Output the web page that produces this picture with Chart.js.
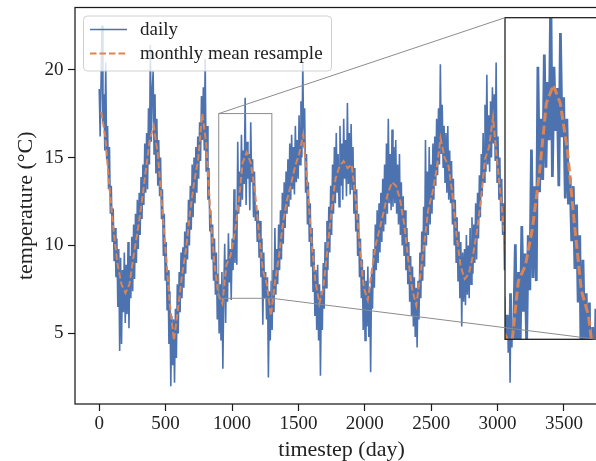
<!DOCTYPE html>
<html>
<head>
<meta charset="utf-8">
<script src="https://cdn.jsdelivr.net/npm/chart.js@4.4.0/dist/chart.umd.min.js"></script>
<style>
  html, body { margin: 0; padding: 0; width: 596px; height: 461px; overflow: hidden; background: #fff; }
  canvas { position: absolute; }
  #main { left: 0; top: 0; }
  #inset { left: 500px; top: 12px; }
  #overlay { left: 0; top: 0; pointer-events: none; }
</style>
</head>
<body>
<canvas id="main" width="620" height="461"></canvas>
<canvas id="inset" width="100" height="334"></canvas>
<canvas id="overlay" width="620" height="461"></canvas>
<script>
'use strict';
// daily series (day = index * 7)
var dailyStep = 7;
var dailyTemp = [
  18.9,16.2,19.4,22.5,17.0,18.6,15.4,20.4,14.9,16.8,13.2,15.6,11.8,
  13.4,10.2,12.1,9.1,11.0,8.2,10.4,6.5,9.8,4.0,9.3,4.4,8.6,
  6.2,9.6,5.6,8.9,6.1,10.2,5.3,9.4,7.0,10.5,7.4,11.2,8.1,
  11.8,9.0,12.6,9.8,13.0,10.6,13.9,11.5,14.6,12.3,15.8,13.0,16.4,
  13.2,17.8,14.6,21.4,15.9,18.8,19.9,15.2,18.6,14.1,17.2,13.4,16.0,
  12.8,15.0,11.5,13.2,9.4,11.8,8.0,10.2,6.3,8.6,4.4,7.4,2.0,
  6.0,3.2,5.8,2.2,6.4,3.6,7.8,5.0,8.5,6.2,9.6,7.0,9.9,
  7.6,10.8,8.4,11.3,9.2,12.6,10.0,13.4,10.9,14.6,11.6,15.0,12.4,
  15.6,13.0,16.2,13.8,17.0,14.8,18.5,16.0,19.0,15.4,20.6,14.2,16.8,
  12.6,14.4,10.8,12.0,9.2,11.2,8.0,10.4,7.2,9.6,5.8,8.4,5.0,
  7.8,4.6,8.5,3.0,7.4,10.1,5.6,9.2,6.8,10.7,7.9,9.8,6.9,
  10.4,8.6,13.2,9.0,12.0,8.9,15.9,11.8,14.2,12.2,16.3,12.6,15.4,
  13.5,18.4,12.3,15.9,13.8,15.2,12.0,17.0,13.6,14.9,11.6,14.2,11.4,
  12.3,10.2,12.0,9.3,11.4,8.2,10.4,5.5,9.6,7.0,8.5,5.8,8.2,
  2.5,7.4,4.6,8.0,5.2,8.6,6.2,11.0,7.2,9.8,7.8,11.2,8.6,
  12.0,9.2,13.0,10.1,13.6,11.0,14.2,11.8,14.9,12.2,15.8,12.6,16.3,
  13.2,15.6,12.9,16.8,13.6,16.0,13.8,17.4,14.6,18.2,15.0,20.4,15.6,
  17.8,13.0,15.2,11.2,13.6,10.2,12.4,8.8,11.0,7.4,9.8,6.0,8.6,
  5.2,8.9,4.6,7.8,2.6,7.4,5.2,9.0,6.4,10.2,7.6,11.4,8.6,
  12.2,9.6,13.4,10.6,14.6,11.8,15.6,12.4,16.4,13.0,15.2,12.2,16.8,
  13.4,15.8,12.6,17.2,13.8,16.0,12.8,18.1,13.5,16.4,12.9,16.9,13.2,
  15.6,11.8,14.4,10.8,13.2,9.4,11.8,8.2,10.4,7.0,9.2,5.2,8.6,
  4.6,8.0,5.4,8.8,4.8,7.6,2.8,8.4,6.4,9.8,7.6,11.2,8.6,
  12.0,9.0,12.4,9.6,13.0,10.2,13.8,10.8,14.6,11.2,15.8,11.8,17.2,
  12.4,15.2,12.0,16.6,12.2,15.6,12.4,16.0,11.8,14.6,11.2,15.2,10.6,
  13.6,10.0,12.8,9.4,12.0,8.6,11.0,7.8,10.2,6.8,9.4,6.0,8.8,
  5.4,8.2,4.8,7.6,4.2,8.0,5.8,9.6,7.0,10.8,8.0,12.2,8.8,
  16.0,10.0,14.2,10.6,15.6,11.2,14.6,11.8,15.8,12.6,16.2,13.4,17.2,
  14.0,17.8,14.6,20.3,15.2,18.0,14.4,16.8,13.6,16.4,13.0,16.8,12.6,
  15.4,12.4,14.8,11.2,13.8,10.0,12.6,9.0,11.6,8.0,10.8,7.0,10.2,
  5.4,9.6,6.8,9.8,6.6,10.6,7.2,10.0,7.0,11.0,7.8,11.6,8.4,
  11.2,9.0,12.4,9.2,13.0,10.4,14.0,11.6,15.2,12.8,16.4,13.6,18.0,
  14.2,19.7,14.6,17.4,14.2,18.2,15.0,19.0,15.8,18.6,14.8,20.4,13.6,
  16.2,12.6,15.0,11.4,13.8,10.6,12.4,8.6,10.8,4.8,9.0,3.9,8.2,
  2.2,7.6,4.2,8.4,5.2,9.0,6.0,9.4,6.6,10.0,7.4,11.2,8.2,
  11.6,9.0,12.4,9.8,13.2,10.6,14.4,11.2,15.0,12.0,16.4,12.8,17.2,
  13.6,18.0,14.2,19.4,14.6,17.6,13.8,18.2,13.2,16.4,12.6,15.6,11.4,
  14.8,10.6,13.4,9.8,12.6,8.8,11.6,7.8,10.8,7.0,10.2,6.4,9.8,
  5.8,9.6,6.2,10.0,5.6,9.4,6.8,10.4,7.4,11.0,8.2,12.0,8.8,
  12.6,9.6,13.4,10.4,14.0,11.0,14.8,11.8,15.6,12.6,16.4,13.2,17.0,
  13.8,16.6
];
// monthly means, one per month (placed mid month)
var monthStep = 30.42;
var monthlyTemp = [
  17.6,16.2,13.4,11.0,9.0,7.8,7.3,7.8,9.4,10.8,12.4,14.2,
  16.0,16.8,15.2,12.4,9.5,6.6,4.6,6.4,8.3,9.8,11.9,13.6,
  14.9,17.5,15.8,11.8,9.0,7.2,6.7,8.9,9.4,10.6,12.4,14.7,
  15.3,14.7,13.2,10.8,8.6,7.8,6.0,7.9,9.4,11.3,12.6,13.5,
  14.5,15.2,16.3,13.6,10.4,8.0,6.7,7.6,9.8,12.0,13.8,14.5,
  14.8,14.4,14.6,12.6,9.9,7.6,6.9,8.6,10.1,11.0,12.0,13.0,
  13.6,13.4,12.6,11.2,9.2,7.5,6.6,8.3,10.2,12.1,13.0,14.3,
  16.1,15.0,14.5,12.8,10.5,8.8,8.1,8.4,9.4,10.8,12.6,14.9,
  15.6,17.3,14.8,12.6,10.0,7.0,6.5,7.8,9.6,11.2,12.9,14.6,
  15.8,15.2,13.4,11.3,9.4,8.2,7.9,9.0,10.6,12.3,13.9,15.2
];
var xTicks = [0, 500, 1000, 1500, 2000, 2500, 3000, 3500];
var yTicks = [5, 10, 15, 20];
var zoomX = [900, 1300];
var zoomY = [7, 17.5];

var dailyPoints = dailyTemp.map(function(t, i) { return {x: i * dailyStep, y: t}; });
var monthlyPoints = monthlyTemp.map(function(t, i) { return {x: 15 + i * monthStep, y: t}; });

var serif = "'Liberation Serif', 'Times New Roman', serif";
Chart.defaults.font.family = serif;
Chart.defaults.color = '#222';
var blue = '#4c72b0', orange = '#dd8452';

// black box round the plot area
var framePlugin = {
  id: 'frame',
  beforeDraw: function(chart, args, opts) {
    if (!opts.fill) return;
    var a = chart.chartArea, ctx = chart.ctx;
    ctx.save();
    ctx.fillStyle = '#fff';
    ctx.fillRect(a.left, a.top, a.right - a.left, a.bottom - a.top);
    ctx.restore();
  },
  afterDatasetsDraw: function(chart) {
    var a = chart.chartArea, ctx = chart.ctx;
    ctx.save();
    ctx.strokeStyle = '#1a1a1a';
    ctx.lineWidth = 1.25;
    ctx.strokeRect(a.left, a.top, a.right - a.left, a.bottom - a.top);
    ctx.restore();
  }
};

// matplotlib style legend in the upper left corner
var boxLegend = {
  id: 'boxLegend',
  afterDraw: function(chart) {
    var ctx = chart.ctx, a = chart.chartArea;
    var x = a.left + 8.5, y = a.top + 8.5, w = 248, h = 55, r = 4;
    ctx.save();
    ctx.beginPath();
    ctx.moveTo(x + r, y);
    ctx.arcTo(x + w, y, x + w, y + h, r);
    ctx.arcTo(x + w, y + h, x, y + h, r);
    ctx.arcTo(x, y + h, x, y, r);
    ctx.arcTo(x, y, x + w, y, r);
    ctx.closePath();
    ctx.fillStyle = 'rgba(255,255,255,0.8)';
    ctx.fill();
    ctx.strokeStyle = 'rgba(204,204,204,0.9)';
    ctx.lineWidth = 1;
    ctx.stroke();
    chart.data.datasets.forEach(function(ds, i) {
      var ly = y + 13.5 + i * 24;
      ctx.beginPath();
      ctx.setLineDash(ds.borderDash || []);
      ctx.strokeStyle = ds.borderColor;
      ctx.lineWidth = ds.borderWidth;
      ctx.moveTo(x + 6.5, ly);
      ctx.lineTo(x + 43.5, ly);
      ctx.stroke();
      ctx.setLineDash([]);
      ctx.fillStyle = '#222';
      ctx.font = '19px ' + serif;
      ctx.textBaseline = 'middle';
      ctx.fillText(ds.label, x + 56.5, ly + 1);
    });
    ctx.restore();
  }
};

var mainChart = new Chart(document.getElementById('main').getContext('2d'), {
  type: 'line',
  data: {
    datasets: [{
      label: 'daily',
      data: dailyPoints,
      borderColor: blue,
      borderWidth: 1.6,
      pointRadius: 0,
      order: 2,
      clip: 0
    }, {
      label: 'monthly mean resample',
      data: monthlyPoints,
      borderColor: orange,
      borderWidth: 2,
      borderDash: [6.5, 3],
      pointRadius: 0,
      order: 1,
      clip: 0
    }]
  },
  options: {
    responsive: false,
    animation: false,
    events: [],
    layout: {padding: {top: 7.5, right: 12, left: 0, bottom: 0}},
    plugins: {legend: {display: false}, tooltip: {enabled: false}},
    scales: {
      x: {
        type: 'linear',
        min: -182.45,
        max: 3831.45,
        afterFit: function(s) { s.height = 57; s.paddingLeft = 0; s.paddingRight = 0; },
        afterBuildTicks: function(s) { s.ticks = xTicks.map(function(v) { return {value: v}; }); },
        grid: {drawOnChartArea: false, tickLength: 7, color: '#1a1a1a', tickWidth: 1.2},
        border: {display: false},
        ticks: {font: {size: 19}, padding: 2, maxRotation: 0, color: '#222',
                callback: function(v) { return String(v); }},
        title: {display: true, text: 'timestep (day)', font: {size: 22, lineHeight: 1}, padding: 0, color: '#222'}
      },
      y: {
        min: 0.99,
        max: 23.53,
        afterFit: function(s) { s.width = 75; s.paddingTop = 0; s.paddingBottom = 0; },
        afterBuildTicks: function(s) { s.ticks = yTicks.map(function(v) { return {value: v}; }); },
        grid: {drawOnChartArea: false, tickLength: 7, color: '#1a1a1a', tickWidth: 1.2},
        border: {display: false},
        ticks: {font: {size: 19}, padding: 4.5, color: '#222',
                callback: function(v) { return String(v); }},
        title: {display: true, text: 'temperature (°C)', font: {size: 22, lineHeight: 1}, padding: {top: 15, bottom: 0}, color: '#222'}
      }
    }
  },
  plugins: [framePlugin, boxLegend]
});

var insetCanvas = document.getElementById('inset');
var insetChart = new Chart(insetCanvas.getContext('2d'), {
  type: 'line',
  data: {
    datasets: [{
      data: dailyPoints,
      borderColor: blue,
      borderWidth: 2.8,
      pointRadius: 0,
      order: 2,
      clip: 0
    }, {
      data: monthlyPoints,
      borderColor: orange,
      borderWidth: 3,
      borderDash: [9, 4],
      pointRadius: 0,
      order: 1,
      clip: 0
    }]
  },
  options: {
    responsive: false,
    animation: false,
    events: [],
    layout: {padding: {left: 5, top: 5.7, right: 3, bottom: 6.7}},
    plugins: {legend: {display: false}, tooltip: {enabled: false}, frame: {fill: true}},
    scales: {
      x: {type: 'linear', display: false, min: zoomX[0], max: zoomX[1]},
      y: {display: false, min: zoomY[0], max: zoomY[1]}
    }
  },
  plugins: [framePlugin]
});

// zoom rectangle and the two connector lines, drawn over both charts
(function drawMarks() {
  var ctx = document.getElementById('overlay').getContext('2d');
  var sx = mainChart.scales.x, sy = mainChart.scales.y;
  var x0 = sx.getPixelForValue(zoomX[0]), x1 = sx.getPixelForValue(zoomX[1]);
  var y0 = sy.getPixelForValue(zoomY[1]), y1 = sy.getPixelForValue(zoomY[0]);
  var ia = insetChart.chartArea;
  var ox = insetCanvas.offsetLeft, oy = insetCanvas.offsetTop;
  ctx.strokeStyle = '#8c8c8c';
  ctx.lineWidth = 1;
  ctx.strokeRect(x0, y0, x1 - x0, y1 - y0);
  ctx.beginPath();
  ctx.moveTo(x0, y0);
  ctx.lineTo(ox + ia.left, oy + ia.top);
  ctx.moveTo(x1, y1);
  ctx.lineTo(ox + ia.right, oy + ia.bottom);
  ctx.stroke();
})();
</script>
</body>
</html>
